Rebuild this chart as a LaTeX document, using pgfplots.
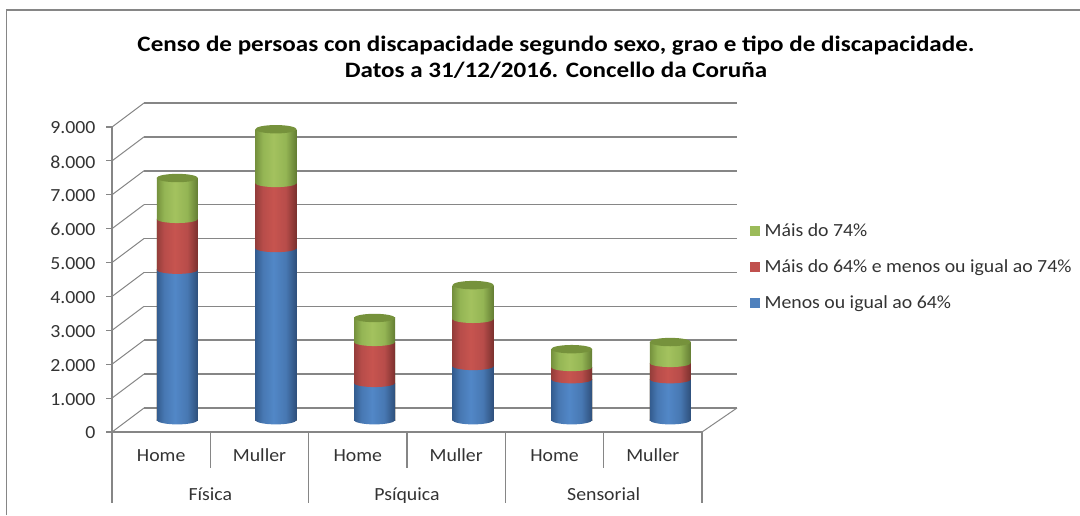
\documentclass[border=0pt]{standalone}
\usepackage{fontspec}
\setmainfont[FakeStretch=1.07]{Carlito}
\newfontfamily\titlefont[FakeStretch=1.14,BoldFont={Carlito Bold}]{Carlito}
\usepackage{pgfplots}
\pgfplotsset{compat=1.18}
\usepackage{pgfplotstable}

\definecolor{gridc}{RGB}{134,134,134}
\definecolor{legblue}{RGB}{79,129,189}
\definecolor{legred}{RGB}{192,80,77}
\definecolor{leggreen}{RGB}{155,187,89}
\definecolor{capgreen}{RGB}{118,146,60}

\pgfdeclarehorizontalshading{cylblue}{100bp}{rgb(0bp)=(0.20,0.36,0.56); rgb(25bp)=(0.20,0.36,0.56); rgb(34bp)=(0.28,0.47,0.70); rgb(47bp)=(0.32,0.53,0.78); rgb(62bp)=(0.28,0.47,0.70); rgb(75bp)=(0.18,0.31,0.48); rgb(100bp)=(0.18,0.31,0.48)}
\pgfdeclarehorizontalshading{cylred}{100bp}{rgb(0bp)=(0.58,0.24,0.23); rgb(25bp)=(0.58,0.24,0.23); rgb(34bp)=(0.72,0.30,0.29); rgb(47bp)=(0.78,0.33,0.31); rgb(62bp)=(0.72,0.30,0.29); rgb(75bp)=(0.48,0.19,0.18); rgb(100bp)=(0.48,0.19,0.18)}
\pgfdeclarehorizontalshading{cylgreen}{100bp}{rgb(0bp)=(0.46,0.57,0.24); rgb(25bp)=(0.46,0.57,0.24); rgb(34bp)=(0.58,0.71,0.33); rgb(47bp)=(0.64,0.76,0.37); rgb(62bp)=(0.58,0.71,0.33); rgb(75bp)=(0.39,0.49,0.20); rgb(100bp)=(0.39,0.49,0.20)}

\pgfdeclareplotmark{eblue}{\path[draw=none,shading=cylblue,rotate=5] (0,0) ellipse (20.6pt and 4.4pt);}
\pgfdeclareplotmark{ered}{\path[draw=none,shading=cylred,rotate=5] (0,0) ellipse (20.6pt and 4pt);}
\pgfdeclareplotmark{egreen}{\path[draw=none,shading=cylgreen,rotate=5] (0,0) ellipse (20.6pt and 4pt);}
\pgfdeclareplotmark{ecap}{\path[draw=none,fill=capgreen,rotate=5] (0,0) ellipse (20.6pt and 4.2pt);}

% segment heights, stacked
\pgfplotstableread{
x    menos  medio  mais
0.5  4430   1500   1210
1.5  5070   1920   1590
2.5  1090   1210   710
3.5  1590   1390   1000
4.5  1200   360    530
5.5  1200   480    620
}\censo

\pgfplotsset{
  px/.style={scale only axis, width=#1pt, clip=false},
  cyl/.style={ybar, bar shift=0pt, bar width=41pt, draw=none, forget plot},
}

\begin{document}
\begin{tikzpicture}[x=1pt,y=1pt]
\path[use as bounding box] (0,0) rectangle (1080,515);
\draw[gridc, line width=1pt] (6.5,0) -- (6.5,505);
\draw[gridc, line width=1.8pt] (6,505) -- (1080,505);

% back wall gridlines
\begin{axis}[
  px=593, height=305pt, at={(144pt,107pt)}, anchor=south west,
  xmin=0, xmax=6, ymin=0, ymax=9000,
  axis line style={draw=none}, xtick=\empty,
  ytick={0,1000,...,9000}, yticklabels={},
  major tick length=0pt,
  ymajorgrids, grid style={gridc, line width=1.6pt},
]
\end{axis}

% front frame with tick labels and the two levels of categories
\begin{axis}[
  px=590, height=305pt, at={(112pt,83pt)}, anchor=south west,
  xmin=0, xmax=6, ymin=0, ymax=9000,
  axis y line*=left, axis x line*=bottom,
  axis line style={gridc, line width=1.2pt, -},
  ytick={0,1000,...,9000},
  yticklabel style={xshift=-7pt, yshift=-1pt, /pgf/number format/.cd, assume math mode=true, use comma=false, 1000 sep={.}},
  tick align=outside,
  ytick style={gridc, line width=1.2pt},
  tick style={gridc},
  major tick length=6pt,
  tick label style={font=\fontsize{18.5}{18.5}\selectfont, text=black!80},
  xtick={0.5,1.5,...,5.5},
  xticklabels={Home,Muller,Home,Muller,Home,Muller},
  x tick style={draw=none},
  x tick label style={yshift=-8pt, text height=12pt, text depth=1pt},
  extra x ticks={1,3,5},
  extra x tick labels={Física,Psíquica,Sensorial},
  extra x tick style={tick label style={yshift=-39pt, text height=12pt, text depth=4pt}, tick style={draw=none}},
]
\pgfplotsinvokeforeach{0,1000,...,9000}{
  \draw[gridc, line width=1pt] (axis cs:0,#1) -- ++(32pt,24pt);
}
\draw[gridc, line width=1pt] (axis cs:6,0) -- ++(35pt,24pt);
\pgfplotsinvokeforeach{0,2,4,6}{
  \draw[gridc, line width=1.3pt] (axis cs:#1,0) -- ++(0,-71pt);
}
\pgfplotsinvokeforeach{1,3,5}{
  \draw[gridc, line width=1.3pt] (axis cs:#1,0) -- ++(0,-36pt);
}
\end{axis}

% cylinder bodies, one plot per bar so that each gets its own shading;
% tallest first, then the lower parts on top
\begin{axis}[
  px=591.6, height=305pt, at={(128pt,95pt)}, anchor=south west,
  xmin=0, xmax=6, ymin=0, ymax=9000,
  hide axis,
  legend style={at={(622pt,153pt)}, anchor=west, draw=none, fill=none,
    font=\fontsize{18.5}{18.5}\selectfont, row sep=17.5pt, inner sep=0pt,
    cells={anchor=west, text=black!80},
    /tikz/every odd column/.append style={column sep=3pt}},
  legend cell align=left,
]
\pgfplotsinvokeforeach{0:1,1:2,2:3,3:4,4:5,5:6}{
  \addplot[cyl, shading=cylgreen, restrict x to domain=#1] table[x=x,y expr=\thisrow{menos}+\thisrow{medio}+\thisrow{mais}] {\censo};
  \addplot[cyl, shading=cylred, restrict x to domain=#1] table[x=x,y expr=\thisrow{menos}+\thisrow{medio}] {\censo};
  \addplot[cyl, shading=cylblue, restrict x to domain=#1] table[x=x,y=menos] {\censo};
}
\addlegendimage{legend image code/.code={\fill[leggreen] (0pt,-4.5pt) rectangle (9pt,4.5pt);}}
\addlegendentry{Máis do 74\%}
\addlegendimage{legend image code/.code={\fill[legred] (0pt,-4.5pt) rectangle (9pt,4.5pt);}}
\addlegendentry{Máis do 64\% e menos ou igual ao 74\%}
\addlegendimage{legend image code/.code={\fill[legblue] (0pt,-4.5pt) rectangle (9pt,4.5pt);}}
\addlegendentry{Menos ou igual ao 64\%}
\end{axis}

% cylinder base, the curved joints and the tops
\begin{axis}[
  px=591.6, height=305pt, at={(128pt,95pt)}, anchor=south west,
  xmin=0, xmax=6, ymin=0, ymax=9000,
  hide axis, stack plots=y,
]
\addplot[only marks, mark=eblue] table[x=x,y expr=0] {\censo};
\addplot[only marks, mark=ered] table[x=x,y=menos] {\censo};
\addplot[only marks, mark=egreen] table[x=x,y=medio] {\censo};
\addplot[only marks, mark=ecap] table[x=x,y=mais] {\censo};
\end{axis}

\node[font=\fontsize{22}{26}\titlefont\bfseries, align=center, text=black] at (556,458)
  {Censo de persoas con discapacidade segundo sexo, grao e tipo de discapacidade.\\Datos a 31/12/2016. Concello da Coruña};
\end{tikzpicture}
\end{document}
